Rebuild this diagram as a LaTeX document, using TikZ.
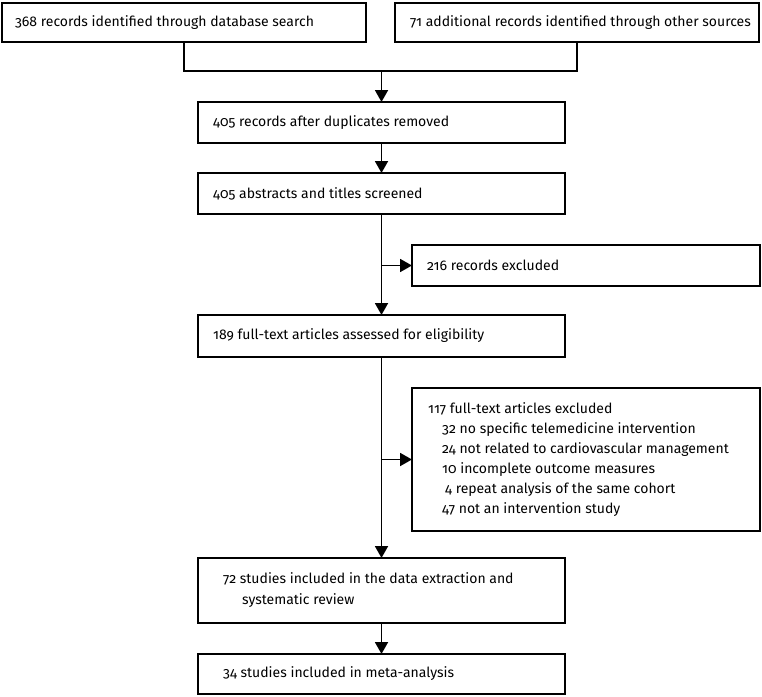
\documentclass[tikz,border=0pt]{standalone}
\usepackage{fontspec}
\setmainfont{Fira Sans}[Numbers=OldStyle]
\usetikzlibrary{arrows.meta}
\begin{document}
\begin{tikzpicture}[x=1pt,y=-1pt,
  box/.style={draw, line width=1.8pt, anchor=north west, outer sep=0pt, inner sep=0pt},
  txt/.style={anchor=west, inner sep=0pt, align=left, font=\fontsize{14}{20}\selectfont},
  line/.style={line width=1.8pt},
  arr/.style={line width=1.8pt, -{Triangle[width=13pt,length=12pt]}}]
\useasboundingbox (0,0) rectangle (762,696);
% boxes
\node[box, minimum width=364pt, minimum height=39pt] (b1) at (2,3) {};
\node[box, minimum width=364pt, minimum height=39pt] (b2) at (395,3) {};
\node[box, minimum width=367pt, minimum height=41pt] (b3) at (198,102) {};
\node[box, minimum width=367pt, minimum height=41pt] (b4) at (198,173) {};
\node[box, minimum width=348pt, minimum height=41pt] (b5) at (412,245) {};
\node[box, minimum width=367pt, minimum height=42pt] (b6) at (198,315) {};
\node[box, minimum width=348pt, minimum height=143pt] (b7) at (412,388) {};
\node[box, minimum width=367pt, minimum height=65pt] (b8) at (198,558) {};
\node[box, minimum width=367pt, minimum height=40pt] (b9) at (198,654) {};
% texts
\node[txt] (t1) at ([xshift=13pt]b1.west) {368 records identified through database search};
\node[txt] (t2) at ([xshift=15pt]b2.west) {71 additional records identified through other sources};
\node[txt] (t3) at ([xshift=15pt]b3.west) {405 records after duplicates removed};
\node[txt] (t4) at ([xshift=15pt]b4.west) {405 abstracts and titles screened};
\node[txt] (t5) at ([xshift=15pt]b5.west) {216 records excluded};
\node[txt] (t6) at ([xshift=15pt]b6.west) {189 full-text articles assessed for eligibility};
\node[txt] (t7) at ([xshift=16pt]b7.west) {117 full-text articles excluded\\
\hspace*{14pt}32 no specific telemedicine intervention\\
\hspace*{14pt}24 not related to cardiovascular management\\
\hspace*{14pt}10 incomplete outcome measures\\
\hspace*{17pt}4 repeat analysis of the same cohort\\
\hspace*{14pt}47 not an intervention study};
\node[txt, font=\fontsize{14}{21}\selectfont] (t8) at ([xshift=25pt]b8.west) {72 studies included in the data extraction and\\
\hspace*{19pt}systematic review};
\node[txt] (t9) at ([xshift=25pt]b9.west) {34 studies included in meta-analysis};
% connectors
\coordinate (j) at (b3.north |- 0,71);
\draw[line] (b1.south) |- (j) -| (b2.south);
\draw[arr] (j) -- (b3.north);
\draw[arr] (b3.south) -- (b4.north);
\draw[arr] (b4.south) -- (b6.north);
\draw[arr] (b4.south |- b5.west) -- (b5.west);
\draw[arr] (b6.south) -- (b8.north);
\draw[arr] (b6.south |- b7.west) -- (b7.west);
\draw[arr] (b8.south) -- (b9.north);
\end{tikzpicture}
\end{document}
